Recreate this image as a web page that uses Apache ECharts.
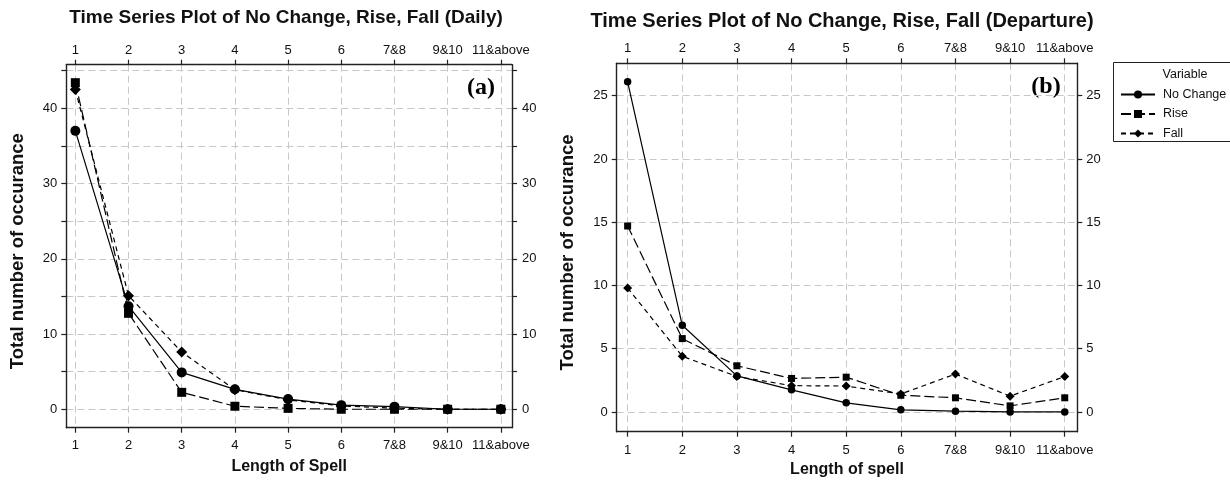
<!DOCTYPE html>
<html>
<head>
<meta charset="utf-8">
<script src="https://cdn.jsdelivr.net/npm/echarts@6/dist/echarts.min.js"></script>
<style>html,body{margin:0;padding:0;background:#fff;}#c{width:1230px;height:483px;}</style>
</head>
<body>
<div id="c"></div>
<script>
// ---- data ----
const categories = ['1', '2', '3', '4', '5', '6', '7&8', '9&10', '11&above'];
const dailyNoChange = [37.0, 13.7, 4.9, 2.65, 1.35, 0.55, 0.35, 0, 0];
const dailyRise = [43.4, 12.75, 2.25, 0.4, 0.12, 0, 0, 0, 0];
const dailyFall = [42.5, 15.1, 7.6, 2.6, 1.25, 0.45, 0.15, 0, 0];
const depNoChange = [26.1, 6.85, 2.85, 1.75, 0.72, 0.17, 0.06, 0, 0];
const depRise = [14.7, 5.8, 3.65, 2.65, 2.75, 1.32, 1.12, 0.48, 1.12];
const depFall = [9.8, 4.4, 2.8, 2.08, 2.05, 1.42, 3.0, 1.25, 2.8];
const dailyYTicks = [0, 5, 10, 15, 20, 25, 30, 35, 40, 45];
const dailyYLabels = [0, 10, 20, 30, 40];
const depYTicks = [0, 5, 10, 15, 20, 25];
const depYLabels = [0, 5, 10, 15, 20, 25];
const seriesNames = ['No Change', 'Rise', 'Fall'];
const titles = ['Time Series Plot of No Change, Rise, Fall (Daily)', 'Time Series Plot of No Change, Rise, Fall (Departure)'];
const panelTags = ['(a)', '(b)'];
const xNames = ['Length of Spell', 'Length of spell'];
const yName = 'Total number of occurance';
const legendTitle = 'Variable';

const FONT = '"Liberation Sans", Arial, sans-serif';
const catIdx = categories.map((c, i) => i);

function xAxis(grid, pos, min, max, margin, name, nameGap) {
  return {
    type: 'value', gridIndex: grid, position: pos, min: min, max: max,
    axisLine: { show: true, onZero: false, lineStyle: { color: '#222', width: 1.4 } },
    axisTick: { show: true, inside: false, length: 5, customValues: catIdx, lineStyle: { color: '#222', width: 1.2 } },
    axisLabel: { show: true, customValues: catIdx, formatter: v => categories[Math.round(v)], margin: margin,
      fontSize: 13, color: '#111', fontFamily: FONT },
    splitLine: { show: pos === 'bottom', lineStyle: { color: '#c8c8c8', type: [7, 4], width: 1 } },
    name: name || '', nameLocation: 'middle', nameGap: nameGap || 0,
    nameTextStyle: { fontWeight: 'bold', fontSize: 16, color: '#111', fontFamily: FONT }
  };
}
function yAxis(grid, pos, min, max, ticks, labels, margin, name, nameGap) {
  return {
    type: 'value', gridIndex: grid, position: pos, min: min, max: max,
    axisLine: { show: true, onZero: false, lineStyle: { color: '#222', width: 1.4 } },
    axisTick: { show: true, inside: false, length: 5, customValues: ticks, lineStyle: { color: '#222', width: 1.2 } },
    axisLabel: { show: true, customValues: labels, margin: margin, fontSize: 13, color: '#111', fontFamily: FONT },
    splitLine: { show: pos === 'left', lineStyle: { color: '#c8c8c8', type: [7, 4], width: 1 } },
    name: name || '', nameLocation: 'middle', nameGap: nameGap || 0, nameRotate: 90,
    nameTextStyle: { fontWeight: 'bold', fontSize: 18.5, color: '#111', fontFamily: FONT, padding: [0, 10, 0, 0] }
  };
}
const styles = [
  { symbol: 'circle', dash: 'solid', big: 10, small: 7.5 },
  { symbol: 'rect', dash: [10, 4], big: 9, small: 7 },
  { symbol: 'diamond', dash: [5, 4], big: 11, small: 9 }
];
function mkSeries(name, values, grid, st, size) {
  return {
    type: 'line', name: name, xAxisIndex: grid * 2, yAxisIndex: grid * 2,
    data: values.map((v, i) => [i, v]),
    symbol: st.symbol, symbolSize: size, showSymbol: true,
    lineStyle: { color: '#000', width: 1.2, type: st.dash },
    itemStyle: { color: '#000' },
    animation: false
  };
}
const dailySets = [dailyNoChange, dailyRise, dailyFall];
const depSets = [depNoChange, depRise, depFall];
const series = [];
seriesNames.forEach((n, k) => series.push(mkSeries(n, dailySets[k], 0, styles[k], styles[k].big)));
seriesNames.forEach((n, k) => series.push(mkSeries(n, depSets[k], 1, styles[k], styles[k].small)));

const option = {
  backgroundColor: '#fff',
  animation: false,
  grid: [
    { left: 66.3, top: 64.7, width: 445.7, height: 363 },
    { left: 616.7, top: 63.3, width: 460.6, height: 368.4 }
  ],
  xAxis: [
    xAxis(0, 'bottom', -0.17, 8.21, 11, xNames[0], 31),
    xAxis(0, 'top', -0.17, 8.21, 8),
    xAxis(1, 'bottom', -0.2, 8.23, 12, xNames[1], 30),
    xAxis(1, 'top', -0.2, 8.23, 8)
  ],
  yAxis: [
    yAxis(0, 'left', -2.45, 45.79, dailyYTicks, dailyYLabels, 9, yName, 39),
    yAxis(0, 'right', -2.45, 45.79, dailyYTicks, dailyYLabels, 10),
    yAxis(1, 'left', -1.56, 27.56, depYTicks, depYLabels, 9, yName, 39),
    yAxis(1, 'right', -1.56, 27.56, depYTicks, depYLabels, 9)
  ],
  legend: {
    data: seriesNames, orient: 'vertical', left: 1115, top: 83,
    itemWidth: 34, itemHeight: 10, itemGap: 6.5,
    textStyle: { fontSize: 12.5, color: '#111', fontFamily: FONT, padding: [0, 0, 0, 3] }
  },
  graphic: [
    { type: 'text', x: 286, y: 18, style: { text: titles[0], font: 'bold 19px ' + FONT, fill: '#111', textAlign: 'center', align: 'center', textVerticalAlign: 'middle', verticalAlign: 'middle' } },
    { type: 'text', x: 842, y: 21, style: { text: titles[1], font: 'bold 20px ' + FONT, fill: '#111', textAlign: 'center', align: 'center', textVerticalAlign: 'middle', verticalAlign: 'middle' } },
    { type: 'text', x: 481, y: 88, style: { text: panelTags[0], font: 'bold 24px "Liberation Serif", "Times New Roman", serif', fill: '#000', textAlign: 'center', align: 'center', textVerticalAlign: 'middle', verticalAlign: 'middle' } },
    { type: 'text', x: 1046, y: 87, style: { text: panelTags[1], font: 'bold 24px "Liberation Serif", "Times New Roman", serif', fill: '#000', textAlign: 'center', align: 'center', textVerticalAlign: 'middle', verticalAlign: 'middle' } },
    { type: 'rect', shape: { x: 1113.5, y: 62.5, width: 130, height: 79 }, style: { fill: 'none', stroke: '#222', lineWidth: 1 } },
    { type: 'text', x: 1185, y: 75, style: { text: legendTitle, font: '12.5px ' + FONT, fill: '#111', textAlign: 'center', align: 'center', textVerticalAlign: 'middle', verticalAlign: 'middle' } }
  ],
  series: series
};
const chart = echarts.init(document.getElementById('c'), null, { renderer: 'canvas' });
chart.setOption(option);
</script>
</body>
</html>
